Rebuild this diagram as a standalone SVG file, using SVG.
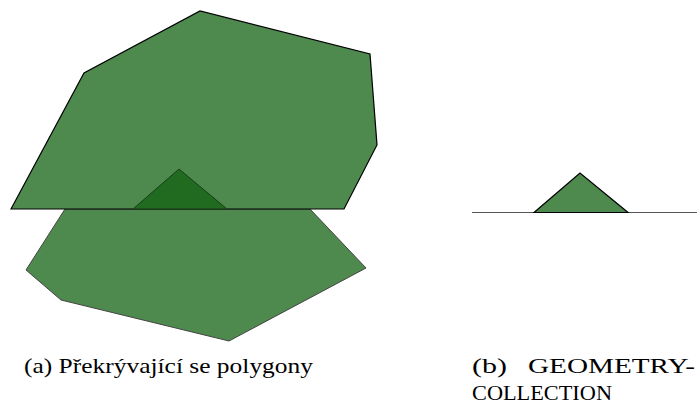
<svg xmlns="http://www.w3.org/2000/svg" width="697" height="407" viewBox="0 0 697 407">
<style>
.poly{fill:#4e8a4e;stroke:#000;stroke-width:1.2;stroke-linejoin:miter}
.polyb{fill:#4e8a4e;stroke:#444;stroke-width:1}
.inter{fill:#216b21;stroke:#1a3a1a;stroke-width:1}
</style>
<g id="figA">
<polygon class="polyb" points="65,209 26,270 61,300 229,341 366,268 310,209"/>
<polygon class="poly" points="11,209 84,73 200,11 370,54 377,145 344,209"/>
<polygon class="inter" points="133,209 179,169 227,209"/>
</g>
<g id="figB">
<line x1="472" y1="212.5" x2="697" y2="212.5" stroke="#555" stroke-width="1.2"/>
<polygon class="poly" points="534,212.5 580,173 628,212.5"/>
</g>
<g id="captions" font-family="Liberation Serif, serif" font-size="22" fill="#000">
<text x="24" y="373" textLength="289" lengthAdjust="spacingAndGlyphs">(a) Překrývající se polygony</text>
<text x="472" y="373" textLength="35" lengthAdjust="spacingAndGlyphs">(b)</text>
<text x="528" y="373" textLength="167" lengthAdjust="spacingAndGlyphs">GEOMETRY-</text>
<text x="472" y="400" textLength="140" lengthAdjust="spacingAndGlyphs">COLLECTION</text>
</g>
</svg>
